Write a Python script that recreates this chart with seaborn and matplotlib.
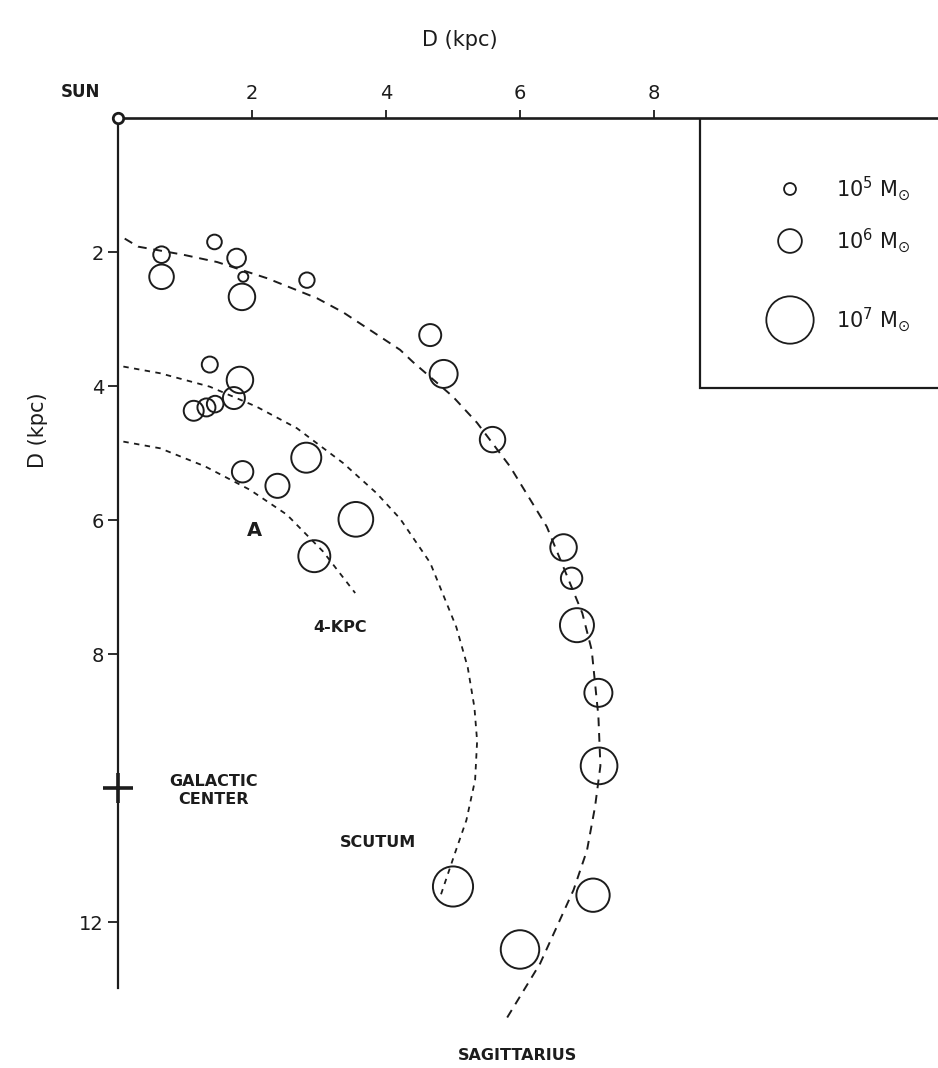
import numpy as np
import matplotlib
matplotlib.use("Agg")
import matplotlib.pyplot as plt
from matplotlib.patches import Rectangle
import seaborn as sns

# Molecular cloud complexes: x across and y down from the Sun (kpc), log10 of mass (Msun)
cloud_x = [0.65, 0.65, 1.44, 1.77, 1.87, 1.85, 2.82,
           1.37, 1.82, 1.73, 1.13, 1.32, 1.45, 1.86, 2.38, 2.81, 3.55, 2.93,
           4.66, 4.86, 5.59, 6.65, 6.77, 6.85, 7.17, 7.18, 7.09, 6.00, 5.00]
cloud_y = [2.04, 2.37, 1.85, 2.09, 2.37, 2.67, 2.42,
           3.68, 3.91, 4.18, 4.37, 4.32, 4.27, 5.28, 5.49, 5.07, 5.99, 6.54,
           3.24, 3.82, 4.80, 6.41, 6.87, 7.57, 8.58, 9.67, 11.60, 12.41, 11.47]
cloud_logm = [5.42, 5.99, 5.24, 5.59, 4.69, 6.10, 5.31,
              5.37, 6.10, 5.83, 5.69, 5.54, 5.42, 5.79, 5.96, 6.28, 6.49, 6.37,
              5.83, 6.18, 6.04, 6.10, 5.79, 6.46, 6.18, 6.57, 6.43, 6.64, 6.70]

# Spiral arm tracks (kpc)
sagittarius_x = [0.10, 0.30, 0.97, 1.48, 2.22, 2.97, 3.36, 4.21, 4.40, 5.00, 5.36,
                 5.85, 6.40, 6.93, 7.07, 7.17, 7.20, 7.12, 7.00, 6.80, 6.55, 6.30, 5.80]
sagittarius_y = [1.80, 1.92, 2.04, 2.15, 2.39, 2.69, 2.90, 3.46, 3.64, 4.16, 4.55,
                 5.20, 6.10, 7.39, 7.94, 8.93, 9.67, 10.28, 10.93, 11.52, 12.07, 12.62, 13.44]
scutum_x = [0.08, 0.63, 1.37, 2.07, 2.67, 3.36, 3.86, 4.21, 4.66, 5.05, 5.22, 5.32,
            5.36, 5.33, 5.20, 5.03, 4.81]
scutum_y = [3.71, 3.81, 4.01, 4.31, 4.63, 5.15, 5.60, 5.98, 6.64, 7.60, 8.20, 8.80,
            9.30, 9.88, 10.48, 10.97, 11.62]
fourkpc_x = [0.08, 0.63, 1.30, 1.97, 2.52, 3.06, 3.54]
fourkpc_y = [4.83, 4.93, 5.20, 5.55, 5.92, 6.47, 7.09]

legend_logm = [5, 6, 7]
x_ticks = [2, 4, 6, 8]
y_ticks = [2, 4, 6, 8, 12]
galactic_center_d = 10.0

DPI = 100
INK = "#1c1c1c"
PX = 67.0  # pixels per kpc, same on both axes


def marker_area(logm):
    """Scatter area (pt^2) for a circle whose radius grows as M^0.3."""
    r_px = 6.2 * 10 ** (0.30 * (np.asarray(logm, dtype=float) - 5))
    d_pt = 2 * r_px * 72 / DPI
    return d_pt ** 2


sns.set_theme(style="white")
plt.rcParams["font.family"] = ["DejaVu Sans"]
plt.rcParams["mathtext.fontset"] = "dejavusans"

W, H = 938, 1068
fig = plt.figure(figsize=(W / DPI, H / DPI), dpi=DPI)
fig.patch.set_facecolor("white")

left_px, top_px, bottom_px = 118, 118, 988
ax = fig.add_axes([left_px / W, 1 - bottom_px / H, (W - left_px) / W, (bottom_px - top_px) / H])
ax.set_facecolor("white")
ax.set_xlim(0, (W - left_px) / PX)
ax.set_ylim((bottom_px - top_px) / PX, 0)

for side in ("right", "bottom"):
    ax.spines[side].set_visible(False)
ax.spines["top"].set_linewidth(1.9)
ax.spines["left"].set_linewidth(1.6)
ax.spines["top"].set_color(INK)
ax.spines["left"].set_color(INK)

ax.xaxis.tick_top()
ax.set_xticks(x_ticks)
ax.set_yticks(y_ticks)
ax.tick_params(axis="x", top=True, bottom=False, direction="out", length=6,
               width=1.3, pad=5, labelsize=14, colors=INK)
ax.tick_params(axis="y", left=True, direction="out", length=7,
               width=1.3, pad=3, labelsize=14, colors=INK)
ax.grid(False)

fig.text(460 / W, 1 - 40 / H, "D (kpc)", ha="center", va="center", fontsize=15, color=INK)
fig.text(38 / W, 1 - 430 / H, "D (kpc)", ha="center", va="center", rotation=90,
         fontsize=15, color=INK)

# spiral arms
sns.lineplot(x=sagittarius_x, y=sagittarius_y, sort=False, estimator=None, ax=ax,
             color=INK, lw=1.4, linestyle=(0, (4.5, 3.5)), clip_on=False)
sns.lineplot(x=scutum_x, y=scutum_y, sort=False, estimator=None, ax=ax,
             color=INK, lw=1.3, linestyle=(0, (3, 3)))
sns.lineplot(x=fourkpc_x, y=fourkpc_y, sort=False, estimator=None, ax=ax,
             color=INK, lw=1.3, linestyle=(0, (3, 3)))

# cloud complexes
sns.scatterplot(x=cloud_x, y=cloud_y, s=marker_area(cloud_logm), facecolors="none",
                edgecolor=INK, linewidth=1.4, ax=ax, legend=False, zorder=3)

# Sun and Galactic centre
sns.scatterplot(x=[0], y=[0], s=marker_area(4.75), facecolors="white", edgecolor=INK,
                linewidth=2.0, ax=ax, legend=False, zorder=5, clip_on=False)
ax.plot([0], [galactic_center_d], marker="+", ms=22, mew=2.6, color=INK,
        ls="none", clip_on=False, zorder=5)

label_kw = dict(ha="center", va="center", fontsize=11.5, fontweight="bold", color=INK)
ax.text(-0.27, -0.39, "SUN", **{**label_kw, "ha": "right", "fontsize": 12}, clip_on=False)
ax.text(1.42, 10.04, "GALACTIC\nCENTER", linespacing=1.25, **label_kw)
ax.text(2.04, 6.15, "A", **{**label_kw, "fontsize": 14})
ax.text(3.31, 7.60, "4-KPC", **label_kw)
ax.text(3.88, 10.81, "SCUTUM", **label_kw)
ax.text(5.96, 13.99, "SAGITTARIUS", clip_on=False, **label_kw)

# mass key in a box open to the right
box_x, box_y = (700 - left_px) / PX, (388 - top_px) / PX
ax.add_patch(Rectangle((box_x, 0), 10, box_y, fill=False, lw=1.6, ec=INK, zorder=4))
key_x = (790 - left_px) / PX
key_y = [(py - top_px) / PX for py in (189, 241, 320)]
sns.scatterplot(x=[key_x] * 3, y=key_y, s=marker_area(legend_logm) * 0.92,
                facecolors="none", edgecolor=INK, linewidth=1.3, ax=ax, legend=False,
                zorder=5)
for m, yk in zip(legend_logm, key_y):
    ax.text((836 - left_px) / PX, yk, rf"$10^{{{m}}}\ \mathrm{{M}}_{{\odot}}$",
            ha="left", va="center", fontsize=15, color=INK)

fig.savefig("out.png", dpi=DPI, facecolor="white")
